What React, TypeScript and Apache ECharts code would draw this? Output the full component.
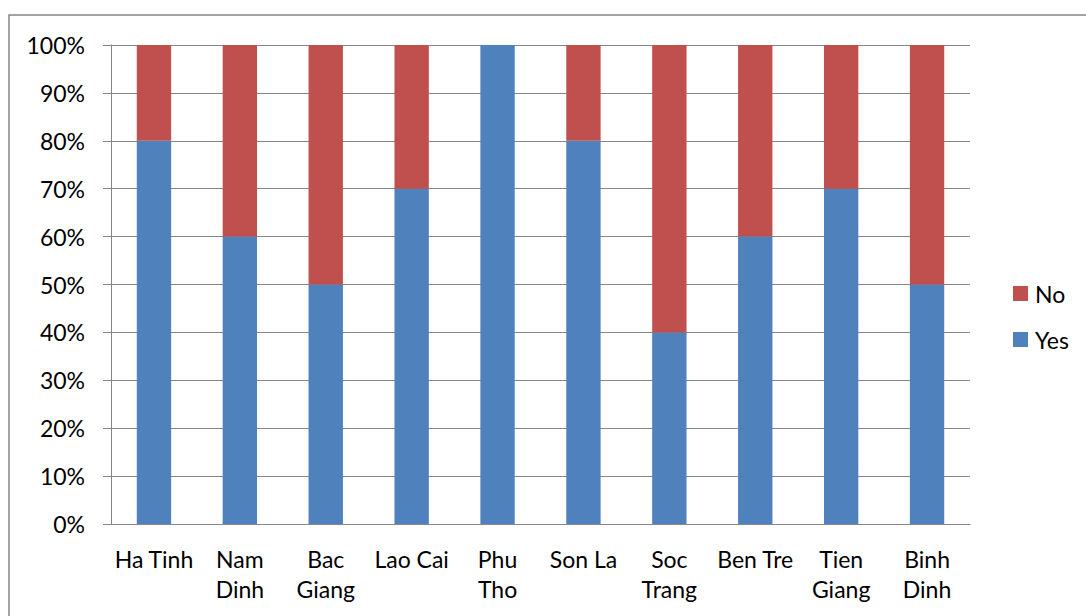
import React, { useEffect, useRef } from "react";
import * as echarts from "echarts";

const categories = ["Ha Tinh", "Nam Dinh", "Bac Giang", "Lao Cai", "Phu Tho", "Son La", "Soc Trang", "Ben Tre", "Tien Giang", "Binh Dinh"];
const tickLabels = ["Ha Tinh", "Nam\nDinh", "Bac\nGiang", "Lao Cai", "Phu\nTho", "Son La", "Soc\nTrang", "Ben Tre", "Tien\nGiang", "Binh\nDinh"];
const yesValues = [80, 60, 50, 70, 100, 80, 40, 60, 70, 50];
const noValues = [20, 40, 50, 30, 0, 20, 60, 40, 30, 50];

const FONT = "Lato";

export default function App() {
  const ref = useRef<HTMLDivElement>(null);
  useEffect(() => {
    if (!ref.current) return;
    const chart = echarts.init(ref.current, undefined, { renderer: "svg" });
    chart.setOption({
      animation: false,
      backgroundColor: "#ffffff",
      textStyle: { fontFamily: FONT },
      graphic: [
        {
          type: "rect",
          shape: { x: 9, y: 15, width: 1200, height: 700 },
          style: { fill: "none", stroke: "#868686", lineWidth: 1.5 },
          silent: true,
          z: -10,
        },
      ],
      grid: { left: 111, right: 116, top: 45, bottom: 92 },
      legend: {
        orient: "vertical",
        left: 1013,
        top: 282,
        padding: 0,
        data: ["No", "Yes"],
        icon: "rect",
        itemWidth: 15,
        itemHeight: 15,
        itemGap: 23,
        textStyle: { fontFamily: FONT, fontSize: 23, color: "#000", padding: [0, 0, 0, 2] },
      },
      xAxis: {
        type: "category",
        data: categories,
        axisLine: { lineStyle: { color: "#868686", width: 1 } },
        axisTick: { length: 9, lineStyle: { color: "#868686" } },
        axisLabel: {
          interval: 0,
          color: "#000",
          fontFamily: FONT,
          fontSize: 23,
          lineHeight: 30,
          margin: 20,
          formatter: (_v: string, i: number) => tickLabels[i],
        },
      },
      yAxis: {
        type: "value",
        min: 0,
        max: 100,
        interval: 10,
        axisLine: { show: true, lineStyle: { color: "#868686", width: 1 } },
        axisTick: { show: true, length: 8, lineStyle: { color: "#868686" } },
        splitLine: { lineStyle: { color: "#868686", width: 1 } },
        axisLabel: {
          color: "#000",
          fontFamily: FONT,
          fontSize: 23,
          margin: 26,
          formatter: (v: number) => v + "%",
        },
      },
      series: [
        {
          name: "Yes",
          type: "bar",
          stack: "total",
          data: yesValues,
          barWidth: "40%",
          itemStyle: { color: "#4F81BD" },
        },
        {
          name: "No",
          type: "bar",
          stack: "total",
          data: noValues,
          barWidth: "40%",
          itemStyle: { color: "#C0504D" },
        },
      ],
    });
    return () => chart.dispose();
  }, []);
  return <div ref={ref} style={{ position: "fixed", left: 0, top: 0, width: 1086, height: 616 }} />;
}
